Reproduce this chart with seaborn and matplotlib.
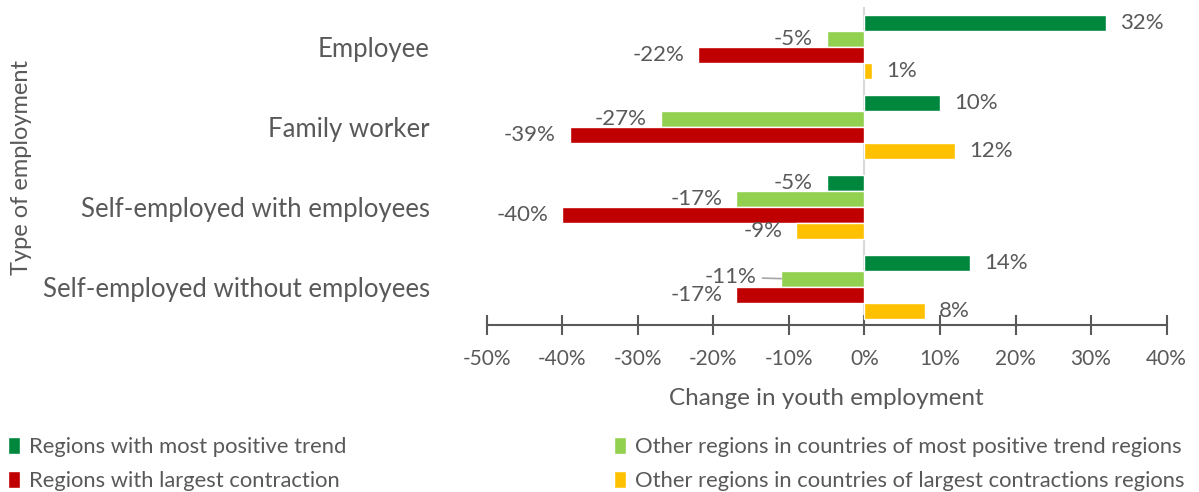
import pandas as pd
import matplotlib.pyplot as plt
import seaborn as sns
from matplotlib.patches import Patch
from matplotlib.ticker import FuncFormatter, MultipleLocator

CATEGORIES = [
    "Employee",
    "Family worker",
    "Self-employed with employees",
    "Self-employed without employees",
]

SERIES = [
    "Regions with most positive trend",
    "Other regions in countries of most positive trend regions",
    "Regions with largest contraction",
    "Other regions in countries of largest contractions regions",
]

MOST_POSITIVE = [32, 10, -5, 14]
OTHER_POSITIVE = [-5, -27, -17, -11]
LARGEST_CONTRACTION = [-22, -39, -40, -17]
OTHER_CONTRACTION = [1, 12, -9, 8]

COLORS = ["#00873E", "#92D050", "#C00000", "#FFC000"]
TEXT = "#595959"


def build_frame():

    values = [MOST_POSITIVE, OTHER_POSITIVE, LARGEST_CONTRACTION, OTHER_CONTRACTION]
    rows = []
    for series, vals in zip(SERIES, values):
        for cat, v in zip(CATEGORIES, vals):
            rows.append({"category": cat, "series": series, "value": v})

    return pd.DataFrame(rows)


def main():

    df = build_frame()

    sns.set_style("white")
    plt.rcParams["font.family"] = ["Lato", "DejaVu Sans"]

    fig = plt.figure(figsize=(11.99, 4.92), dpi=100)
    ax = fig.add_axes([0.406, 0.3394, 0.567, 0.647])

    sns.barplot(
        data=df, x="value", y="category", hue="series",
        order=CATEGORIES, hue_order=SERIES, palette=COLORS,
        orient="h", width=0.8, saturation=1, ax=ax, legend=False,
    )

    ax.axvline(0, color="#D9D9D9", lw=1.5, zorder=0)

    # data labels
    for container in ax.containers:
        for bar in container:
            w = bar.get_width()
            y = bar.get_y() + bar.get_height() / 2
            label = f"{w:.0f}%"
            if w == -11:
                ax.annotate(label, xy=(w, y), xytext=(-18, 1), textcoords="offset points",
                            ha="right", va="center", fontsize=16, color=TEXT,
                            arrowprops=dict(arrowstyle="-", color="#A6A6A6", lw=1.2,
                                            shrinkA=2, shrinkB=0))
            elif w >= 0:
                ax.annotate(label, xy=(w, y), xytext=(10, 0), textcoords="offset points",
                            ha="left", va="center", fontsize=16, color=TEXT)
            else:
                ax.annotate(label, xy=(w, y), xytext=(-10, 0), textcoords="offset points",
                            ha="right", va="center", fontsize=16, color=TEXT)

    ax.set_xlim(-50, 40)
    ax.set_ylim(3.48, -0.5)
    ax.xaxis.set_major_locator(MultipleLocator(10))
    ax.xaxis.set_major_formatter(FuncFormatter(lambda v, _: f"{v:.0f}%"))

    for side in ["top", "right", "left"]:
        ax.spines[side].set_visible(False)
    ax.spines["bottom"].set_color("#595959")
    ax.spines["bottom"].set_linewidth(1.5)

    ax.tick_params(axis="x", bottom=True, direction="inout", length=15, width=1.5,
                   color="#595959", labelsize=15, labelcolor=TEXT, pad=9.5)
    ax.tick_params(axis="y", length=0, labelsize=18.5, labelcolor=TEXT, pad=41)

    ax.set_xlabel("Change in youth employment", fontsize=17.5, color=TEXT, labelpad=14)
    ax.set_ylabel("")
    fig.text(0.018, 0.659, "Type of employment", rotation=90, ha="center", va="center",
             fontsize=17, color=TEXT)

    handles = [Patch(facecolor=c, label=s) for c, s in zip(COLORS, SERIES)]
    order = [0, 2, 1, 3]
    fig.legend(
        [handles[i] for i in order], [SERIES[i] for i in order],
        ncol=2, loc="lower left", bbox_to_anchor=(-0.006, -0.03), frameon=False,
        fontsize=15.8, labelcolor=TEXT, handlelength=0.55, handleheight=0.8,
        handletextpad=0.4, columnspacing=12.2, labelspacing=0.65, borderpad=0.2,
    )

    fig.savefig("out.png", dpi=100)


if __name__ == "__main__":

    main()
